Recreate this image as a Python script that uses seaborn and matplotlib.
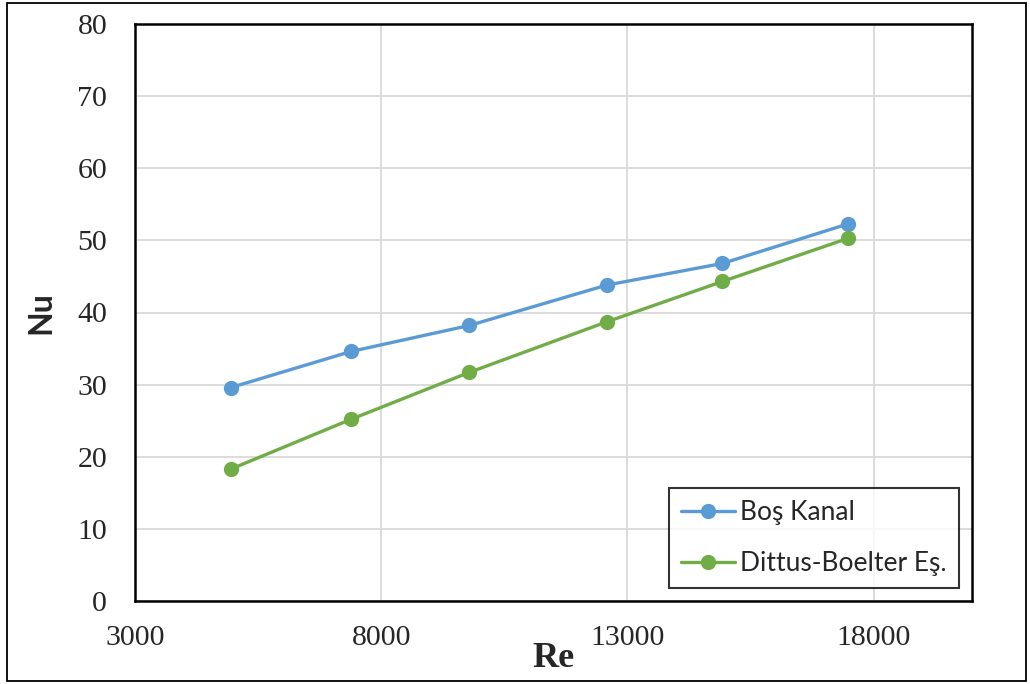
import pandas as pd
import matplotlib.pyplot as plt
import seaborn as sns
from matplotlib.patches import Rectangle

# Values
re_values = [4950, 7390, 9790, 12580, 14930, 17490]
nu_bos_kanal = [29.6, 34.6, 38.2, 43.8, 46.8, 52.3]
nu_dittus = [18.3, 25.2, 31.7, 38.7, 44.3, 50.3]
series_names = ['Boş Kanal', 'Dittus-Boelter Eş.']
x_ticks = [3000, 8000, 13000, 18000]
y_ticks = [0, 10, 20, 30, 40, 50, 60, 70, 80]

df = pd.DataFrame({
    'Re': re_values * 2,
    'Nu': nu_bos_kanal + nu_dittus,
    'series': [series_names[0]] * len(re_values) + [series_names[1]] * len(re_values),
})

sns.set_style('white')
plt.rcParams['font.family'] = ['Liberation Serif', 'DejaVu Serif']

fig = plt.figure(figsize=(10.30, 6.84), dpi=100)
ax = fig.add_axes([135 / 1030, 1 - 601 / 684, (972 - 135) / 1030, (601 - 24) / 684])

sns.lineplot(data=df, x='Re', y='Nu', hue='series', palette=['#5B9BD5', '#70AD47'],
             marker='o', markersize=11, markeredgewidth=0, linewidth=2.4,
             sort=False, ax=ax)

ax.set_xlim(3000, 20000)
ax.set_ylim(0, 80)
ax.set_xticks(x_ticks)
ax.set_yticks(y_ticks)
ax.grid(True, color='#d9d9d9', linewidth=1.3)
ax.set_axisbelow(True)
ax.tick_params(axis='both', length=0, labelsize=21.5)
ax.tick_params(axis='y', pad=20)
ax.tick_params(axis='x', pad=17)
for spine in ax.spines.values():
    spine.set_color('black')
    spine.set_linewidth(1.8)

ax.set_xlabel('Re', fontsize=26, fontweight='bold', family=['Liberation Serif'])
ax.xaxis.label.set_va('center')
ax.xaxis.set_label_coords(0.5, -0.10)
ax.set_ylabel('Nu', fontsize=23, fontweight='bold', family=['Lato', 'DejaVu Sans'])
ax.yaxis.label.set_va('center')
ax.yaxis.set_label_coords(-0.112, 0.5)

leg = ax.legend(loc='lower right', bbox_to_anchor=(0.984, 0.022), frameon=True,
                fancybox=False, edgecolor='black', prop={'family': 'Lato', 'size': 19},
                handlelength=2.05, handletextpad=0.2, labelspacing=1.0,
                borderpad=0.45, borderaxespad=0)
leg.get_frame().set_linewidth(1.5)

# outer chart frame
fig.patches.append(Rectangle((7 / 1030, 1 - 681 / 684), (1026 - 7) / 1030, (681 - 3) / 684,
                             transform=fig.transFigure, fill=False, edgecolor='black',
                             linewidth=1.3))

fig.savefig('out.png', dpi=100)
